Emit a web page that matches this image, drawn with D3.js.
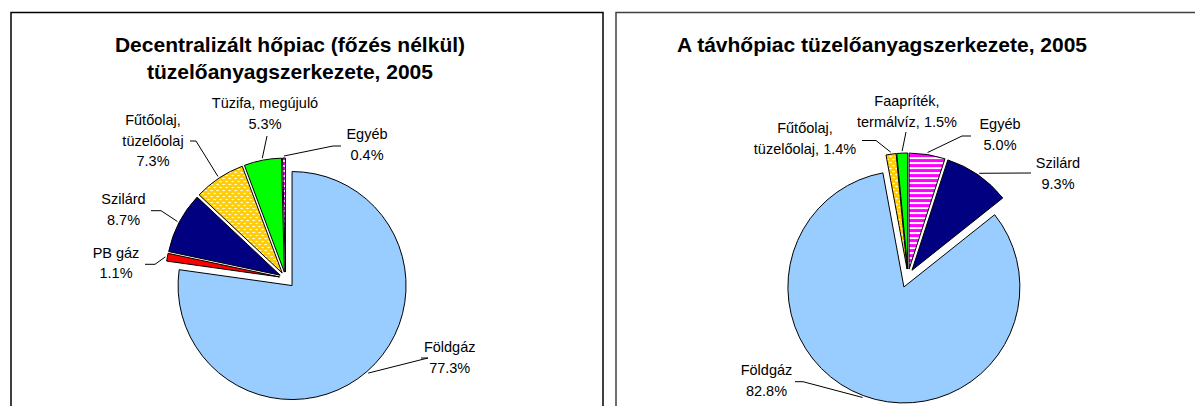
<!DOCTYPE html>
<html>
<head>
<meta charset="utf-8">
<script src="https://cdn.jsdelivr.net/npm/d3@7"></script>
<style>
  body { margin: 0; background: #fff; }
  svg { display: block; font-family: "Liberation Sans", Arial, sans-serif; }
</style>
</head>
<body>
<script>
// values (percent)
const leftCategories = ["Földgáz", "PB gáz", "Szilárd", "Fűtőolaj, tüzelőolaj", "Tüzifa, megújuló", "Egyéb"];
const leftValues = [77.3, 1.1, 8.7, 7.3, 5.3, 0.4];
const leftLabels = ["Földgáz\n{v}", "PB gáz\n{v}", "Szilárd\n{v}", "Fűtőolaj,\ntüzelőolaj\n{v}", "Tüzifa, megújuló\n{v}", "Egyéb\n{v}"];

const rightCategories = ["Egyéb", "Szilárd", "Földgáz", "Fűtőolaj, tüzelőolaj", "Faapríték, termálvíz"];
const rightValues = [5.0, 9.3, 82.8, 1.4, 1.5];
const rightLabels = ["Egyéb\n{v}", "Szilárd\n{v}", "Földgáz\n{v}", "Fűtőolaj,\ntüzelőolaj, {v}", "Faapríték,\ntermálvíz, {v}"];

const fmt = v => d3.format(".1f")(v) + "%";

const W = 1195, H = 406;
const svg = d3.select("body").append("svg").attr("width", W).attr("height", H);

// fill patterns
const defs = svg.append("defs");
const dots = defs.append("pattern").attr("id", "dots")
    .attr("patternUnits", "userSpaceOnUse").attr("width", 6).attr("height", 6);
dots.append("rect").attr("width", 6).attr("height", 6).attr("fill", "#ffcc00");
dots.append("ellipse").attr("cx", 1.5).attr("cy", 1.5).attr("rx", 1.4).attr("ry", 0.8).attr("fill", "#fff");
dots.append("ellipse").attr("cx", 4.5).attr("cy", 4.5).attr("rx", 1.4).attr("ry", 0.8).attr("fill", "#fff");

const stripes = defs.append("pattern").attr("id", "stripes")
    .attr("patternUnits", "userSpaceOnUse").attr("width", 5).attr("height", 5);
stripes.append("rect").attr("width", 5).attr("height", 5).attr("fill", "#ff00ff");
stripes.append("rect").attr("y", 3).attr("width", 5).attr("height", 2).attr("fill", "#fff");

const fills = {
    "Földgáz": "#99ccff",
    "PB gáz": "#ff0000",
    "Szilárd": "#000080",
    "Fűtőolaj, tüzelőolaj": "url(#dots)",
    "Tüzifa, megújuló": "#00ff00",
    "Faapríték, termálvíz": "#00ff00",
    "Egyéb": "url(#stripes)"
};

function drawPie(opt) {
    const g = svg.append("g");

    g.append("rect")
        .attr("x", opt.frame[0]).attr("y", opt.frame[1])
        .attr("width", opt.frame[2]).attr("height", opt.frame[3])
        .attr("fill", "#fff").attr("stroke", opt.frameColor).attr("stroke-width", 1.5);

    g.append("text")
        .attr("x", opt.titleX).attr("y", opt.titleY)
        .attr("text-anchor", "middle")
        .style("font-size", "21px").style("font-weight", "bold")
        .selectAll("tspan").data(opt.title).join("tspan")
        .attr("x", opt.titleX).attr("dy", (d, i) => i ? 27 : 0)
        .text(d => d);

    const pie = d3.pie().sort(null).value(d => d);
    const arcs = pie(opt.values);
    const arc = d3.arc().innerRadius(0).outerRadius(opt.r);

    // explode every slice along its bisector
    const off = arcs.map((a, i) => {
        const m = (a.startAngle + a.endAngle) / 2;
        const e = opt.explode[i];
        return [opt.cx + e * Math.sin(m), opt.cy - e * Math.cos(m)];
    });

    g.selectAll("path.slice").data(arcs).join("path")
        .attr("class", "slice")
        .attr("transform", (d, i) => `translate(${off[i][0]},${off[i][1]})`)
        .attr("d", arc)
        .attr("fill", (d, i) => fills[opt.categories[i]])
        .attr("stroke", "#000").attr("stroke-width", 1);

    // leader lines: elbow points, then to the slice rim at its bisector
    const line = d3.line();
    g.selectAll("path.leader").data(arcs).join("path")
        .attr("class", "leader")
        .attr("d", (d, i) => {
            const m = (d.startAngle + d.endAngle) / 2;
            const rr = opt.r + 2;
            const end = [off[i][0] + rr * Math.sin(m), off[i][1] - rr * Math.cos(m)];
            return line(opt.labelPos[i].elbow.concat([end]));
        })
        .attr("fill", "none").attr("stroke", "#000").attr("stroke-width", 1);

    g.selectAll("text.lab").data(arcs).join("text")
        .attr("class", "lab")
        .attr("text-anchor", "middle")
        .style("font-size", "14.5px")
        .each(function (d, i) {
            const p = opt.labelPos[i];
            const lines = opt.labels[i].replace("{v}", fmt(opt.values[i])).split("\n");
            d3.select(this).selectAll("tspan").data(lines).join("tspan")
                .attr("x", p.x).attr("y", (t, j) => p.y + 5 + j * 20.7)
                .text(t => t);
        });
}

drawPie({
    frame: [11, 12.5, 592, 420], frameColor: "#000",
    title: ["Decentralizált hőpiac (főzés nélkül)", "tüzelőanyagszerkezete, 2005"],
    titleX: 290, titleY: 52,
    categories: leftCategories, values: leftValues, labels: leftLabels,
    cx: 285.5, cy: 278, r: 114,
    explode: [10, 6, 6, 6, 6, 6],
    labelPos: [
        { x: 449.7, y: 347, elbow: [[421, 358], [428, 358]] },
        { x: 116, y: 252.7, elbow: [[145, 264.3], [155, 264.3]] },
        { x: 123.5, y: 199, elbow: [[151, 210.7], [161, 210.7]] },
        { x: 153, y: 120, elbow: [[190, 141], [196, 141]] },
        { x: 265, y: 103.3, elbow: [[267, 136]] },
        { x: 367, y: 134, elbow: [[341, 146], [333, 146]] }
    ]
});

drawPie({
    frame: [616, 12.5, 600, 420], frameColor: "#404040",
    title: ["A távhőpiac tüzelőanyagszerkezete, 2005"],
    titleX: 882, titleY: 52,
    categories: rightCategories, values: rightValues, labels: rightLabels,
    cx: 908, cy: 276, r: 116,
    explode: [7, 7, 11.7, 7, 7],
    labelPos: [
        { x: 1000, y: 124.3, elbow: [[971, 136], [962, 136]] },
        { x: 1058, y: 163.3, elbow: [[1031, 173]] },
        { x: 766.5, y: 370, elbow: [[795, 381.7], [803, 381.7]] },
        { x: 805, y: 128.3, elbow: [[862, 140.5], [876, 140.5]] },
        { x: 907, y: 101, elbow: [[906, 132]] }
    ]
});
</script>
</body>
</html>
